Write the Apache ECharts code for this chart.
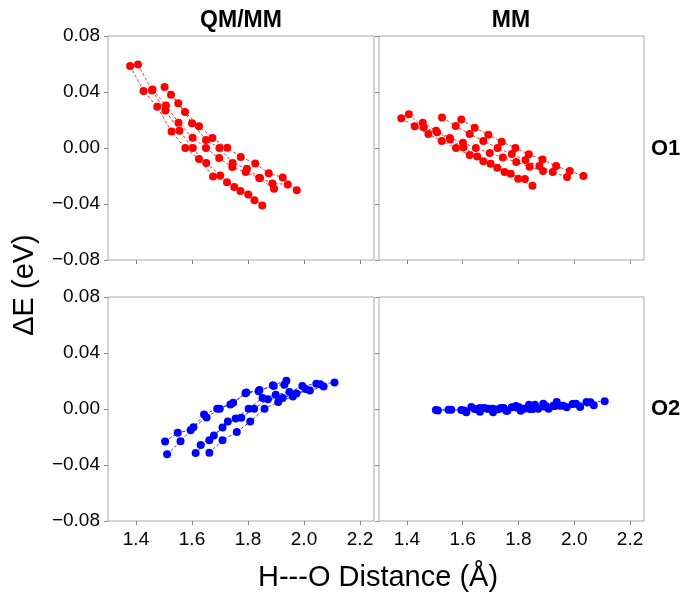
<!DOCTYPE html>
<html>
<head>
<meta charset="utf-8">
<script src="https://cdn.jsdelivr.net/npm/echarts@6/dist/echarts.min.js"></script>
<style>html,body{margin:0;padding:0;background:#fff}#c{width:682px;height:595px}</style>
</head>
<body>
<div id="c"></div>
<script>
// Column / row labels
const columnTitles = ['QM/MM', 'MM'];
const rowTitles = ['O1', 'O2'];
const xTicks = [1.4, 1.6, 1.8, 2.0, 2.2];
const yTicks = [-0.08, -0.04, 0.00, 0.04, 0.08];

// QM/MM, O1 : H---O distance (Å) and ΔE (eV), five scan chains
const distQMMM_O1 = [
  [1.379, 1.427, 1.476, 1.527, 1.576, 1.625, 1.675, 1.725, 1.773, 1.823],
  [1.407, 1.457, 1.505, 1.555, 1.603, 1.651, 1.701, 1.751, 1.801, 1.851],
  [1.459, 1.507, 1.552, 1.602, 1.650, 1.697, 1.744, 1.792, 1.840, 1.893],
  [1.502, 1.551, 1.600, 1.650, 1.698, 1.745, 1.796, 1.843, 1.887, 1.942],
  [1.525, 1.575, 1.625, 1.673, 1.726, 1.774, 1.826, 1.874, 1.924, 1.974]
];
const dEQMMM_O1 = [
  [0.0585, 0.0408, 0.0294, 0.0117, 0.0000, -0.0079, -0.0203, -0.0244, -0.0308, -0.0373],
  [0.0597, 0.0411, 0.0267, 0.0124, 0.0000, -0.0107, -0.0196, -0.0279, -0.0332, -0.0411],
  [0.0418, 0.0303, 0.0181, 0.0074, 0.0000, -0.0072, -0.0136, -0.0172, -0.0215, -0.0291],
  [0.0435, 0.0320, 0.0177, 0.0057, 0.0000, -0.0107, -0.0148, -0.0215, -0.0253, -0.0260],
  [0.0380, 0.0258, 0.0155, 0.0072, 0.0002, -0.0064, -0.0110, -0.0181, -0.0210, -0.0301]
];

// MM, O1
const distMM_O1 = [
  [1.380, 1.428, 1.477, 1.525, 1.576, 1.625, 1.674, 1.724, 1.772, 1.823],
  [1.407, 1.460, 1.508, 1.555, 1.603, 1.652, 1.700, 1.750, 1.799, 1.850],
  [1.457, 1.505, 1.554, 1.601, 1.647, 1.697, 1.744, 1.792, 1.840, 1.888],
  [1.526, 1.575, 1.625, 1.674, 1.725, 1.776, 1.825, 1.875, 1.923, 1.974],
  [1.595, 1.643, 1.692, 1.740, 1.789, 1.837, 1.886, 1.935, 1.984, 2.033]
];
const dEMM_O1 = [
  [0.0212, 0.0155, 0.0100, 0.0050, 0.0000, -0.0050, -0.0095, -0.0141, -0.0184, -0.0222],
  [0.0241, 0.0148, 0.0112, 0.0060, 0.0005, -0.0060, -0.0112, -0.0172, -0.0219, -0.0269],
  [0.0181, 0.0124, 0.0072, 0.0038, 0.0000, -0.0036, -0.0067, -0.0100, -0.0134, -0.0165],
  [0.0217, 0.0157, 0.0100, 0.0050, 0.0000, -0.0043, -0.0086, -0.0129, -0.0172, -0.0207],
  [0.0203, 0.0145, 0.0095, 0.0045, 0.0000, -0.0045, -0.0083, -0.0129, -0.0165, -0.0200]
];

// QM/MM, O2
const distQMMM_O2 = [
  [1.504, 1.549, 1.595, 1.643, 1.690, 1.737, 1.791, 1.838, 1.889, 1.937],
  [1.511, 1.559, 1.605, 1.652, 1.699, 1.747, 1.794, 1.841, 1.892, 1.930],
  [1.613, 1.662, 1.709, 1.756, 1.802, 1.852, 1.899, 1.948, 1.994, 2.044],
  [1.631, 1.678, 1.728, 1.776, 1.822, 1.871, 1.924, 1.973, 2.021, 2.070],
  [1.662, 1.709, 1.760, 1.808, 1.859, 1.908, 1.960, 2.006, 2.058, 2.109]
];
const dEQMMM_O2 = [
  [-0.0233, -0.0169, -0.0152, -0.0040, 0.0002, 0.0033, 0.0112, 0.0126, 0.0169, 0.0202],
  [-0.0324, -0.0231, -0.0131, -0.0060, 0.0002, 0.0045, 0.0117, 0.0136, 0.0164, 0.0174],
  [-0.0314, -0.0224, -0.0133, -0.0067, 0.0002, 0.0079, 0.0102, 0.0121, 0.0164, 0.0181],
  [-0.0257, -0.0190, -0.0090, -0.0062, 0.0002, 0.0069, 0.0079, 0.0110, 0.0133, 0.0160],
  [-0.0312, -0.0224, -0.0164, -0.0090, 0.0002, 0.0050, 0.0090, 0.0143, 0.0176, 0.0190]
];

// MM, O2
const distMM_O2 = distQMMM_O2;
const dEMM_O2 = [
  [-0.0007, -0.0005, -0.0007, 0.0000, 0.0002, 0.0007, 0.0021, 0.0031, 0.0038, 0.0050],
  [-0.0010, -0.0005, -0.0010, -0.0002, 0.0002, 0.0007, 0.0010, 0.0000, 0.0017, 0.0021],
  [-0.0024, 0.0007, 0.0002, -0.0012, 0.0012, 0.0000, 0.0017, 0.0024, 0.0036, 0.0050],
  [0.0014, 0.0007, -0.0002, 0.0012, 0.0002, 0.0002, 0.0021, 0.0012, 0.0014, 0.0026],
  [-0.0019, -0.0024, -0.0012, -0.0012, 0.0031, 0.0002, 0.0024, 0.0038, 0.0048, 0.0055]
];

const FONT = '"Liberation Sans", Arial, Helvetica, sans-serif';
const panels = [
  { xs: distQMMM_O1, ys: dEQMMM_O1, color: '#ff0000', grid: { left: 108, top: 36, width: 266, height: 224 }, showX: false, showY: true },
  { xs: distMM_O1,   ys: dEMM_O1,   color: '#ff0000', grid: { left: 379, top: 36, width: 265, height: 224 }, showX: false, showY: false },
  { xs: distQMMM_O2, ys: dEQMMM_O2, color: '#0000ff', grid: { left: 108, top: 297, width: 266, height: 224 }, showX: true, showY: true },
  { xs: distMM_O2,   ys: dEMM_O2,   color: '#0000ff', grid: { left: 379, top: 297, width: 265, height: 224 }, showX: true, showY: false }
];

const grids = [], xAxes = [], yAxes = [], series = [];
panels.forEach((p, i) => {
  grids.push(Object.assign({ show: true, borderColor: '#a8a8a8', borderWidth: 1, backgroundColor: '#fff', containLabel: false }, p.grid));
  xAxes.push({
    type: 'value', gridIndex: i, min: 1.3, max: 2.25,
    splitLine: { show: false },
    axisLine: { show: false, onZero: false },
    axisTick: { show: true, customValues: xTicks, length: 4, lineStyle: { color: '#888' } },
    axisLabel: { show: p.showX, customValues: xTicks, formatter: v => v.toFixed(1), color: '#000', fontSize: 19, fontFamily: FONT, margin: 9 }
  });
  yAxes.push({
    type: 'value', gridIndex: i, min: -0.08, max: 0.08, interval: 0.04,
    splitLine: { show: false },
    axisLine: { show: false, onZero: false },
    axisTick: { show: true, length: 4, lineStyle: { color: '#888' } },
    axisLabel: {
      show: p.showY, color: '#000', fontSize: 19, fontFamily: FONT, margin: 8,
      formatter: v => Math.abs(v) < 1e-9 ? '0.00' : v.toFixed(2).replace('-', '\u2212')
    }
  });
  p.xs.forEach((xarr, k) => {
    series.push({
      type: 'line', xAxisIndex: i, yAxisIndex: i,
      data: xarr.map((x, j) => [x, p.ys[k][j]]),
      symbol: 'circle', symbolSize: 8, showSymbol: true,
      itemStyle: { color: p.color },
      lineStyle: { color: p.color, width: 1, type: [3, 2], opacity: 0.8 },
      silent: true, animation: false
    });
  });
});

const chart = echarts.init(document.getElementById('c'), null, { renderer: 'canvas' });
chart.setOption({
  backgroundColor: '#fff',
  animation: false,
  grid: grids, xAxis: xAxes, yAxis: yAxes, series: series,
  graphic: [
    { type: 'text', x: 241, y: 21, style: { text: columnTitles[0], textAlign: 'center', textVerticalAlign: 'middle', font: 'bold 23px ' + FONT, fill: '#000' } },
    { type: 'text', x: 511, y: 21, style: { text: columnTitles[1], textAlign: 'center', textVerticalAlign: 'middle', font: 'bold 23px ' + FONT, fill: '#000' } },
    { type: 'text', x: 651, y: 149, style: { text: rowTitles[0], textAlign: 'left', textVerticalAlign: 'middle', font: 'bold 22px ' + FONT, fill: '#000' } },
    { type: 'text', x: 651, y: 409, style: { text: rowTitles[1], textAlign: 'left', textVerticalAlign: 'middle', font: 'bold 22px ' + FONT, fill: '#000' } },
    { type: 'text', x: 25, y: 285, rotation: Math.PI / 2, style: { text: '\u0394E (eV)', textAlign: 'center', textVerticalAlign: 'middle', font: '29px ' + FONT, fill: '#000' } },
    { type: 'text', x: 378, y: 578, style: { text: 'H---O Distance (\u00c5)', textAlign: 'center', textVerticalAlign: 'middle', font: '29px ' + FONT, fill: '#000' } }
  ]
});
</script>
</body>
</html>
